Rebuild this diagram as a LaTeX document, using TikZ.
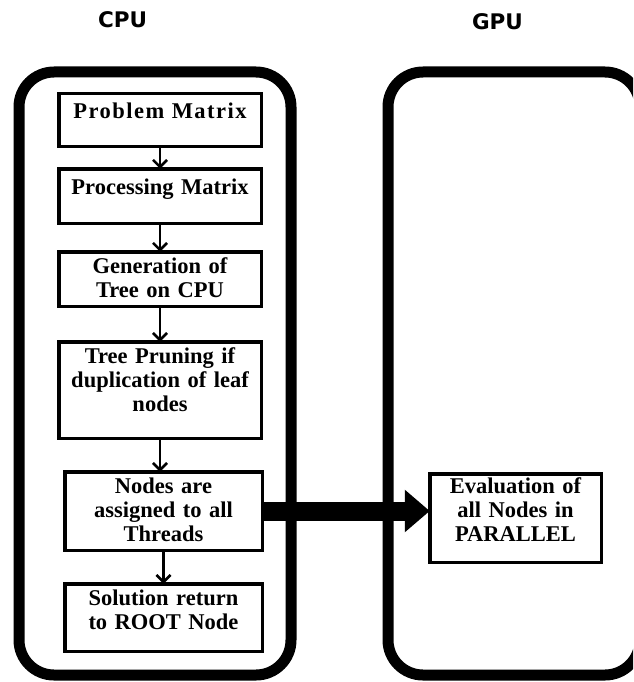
\documentclass[tikz,border=0pt]{standalone}
\usepackage{fontspec}
\setmainfont{Liberation Serif}
\newfontfamily\sidefont{DejaVu Sans}
\usepackage{tikz}
\usetikzlibrary{arrows.meta}

\tikzset{
  stepbox/.style={draw, line width=3.5pt, inner sep=0pt, outer sep=0pt, anchor=north,
    text width=202.5pt, align=center, text height=22pt,
    font=\bfseries\fontsize{22.5}{24}\selectfont},
  panel/.style={line width=11pt, rounded corners=35pt},
  side/.style={font=\sidefont\bfseries\fontsize{21.5}{26}\selectfont},
  bigarrow/.style={line width=19pt, -{Triangle[length=25pt,width=41pt]}}
}

\begin{document}
\begin{tikzpicture}[x=1pt, y=1pt, >={Straight Barb[length=7pt,width=14pt]},
    edge from parent/.style={draw, line width=2.5pt, ->},
    edge from parent path={(\tikzparentnode.south) -- (\tikzparentnode.south |- \tikzchildnode.north)},
    level 1/.style={level distance=48.75pt},
    level 2/.style={level distance=55.75pt},
    level 3/.style={level distance=62.75pt},
    level 4/.style={level distance=81.75pt},
    level 5/.style={level distance=72.75pt}]
  \useasboundingbox (0,0) rectangle (633,-682);
  \clip (0,0) rectangle (633,-682);
  % the two sides
  \draw[panel] (19,-72) rectangle (291,-675);
  \draw[panel] (388,-72) rectangle (640,-675);
  \node[side] (cpu) at (122.5,-20) {CPU};
  \node[side] (gpu) at (497.5,-21.5) {GPU};
  % steps on the CPU
  \node[stepbox, text height=24.25pt, text depth=28.25pt] (prob) at (160,-93.75) {\addfontfeature{LetterSpace=6.5}Problem Matrix}
    child {node[stepbox, text height=26pt, text depth=28.5pt] (proc) {Processing Matrix}
      child {node[stepbox, text depth=32.5pt] (gen) {Generation of\\Tree on CPU}
        child {node[stepbox, text depth=74.5pt] (prune) {Tree Pruning if\\duplication of leaf\\nodes}
          child {node[stepbox, xshift=3.5pt, text width=197.5pt, text depth=56.5pt] (assign) {Nodes are\\assigned to all\\Threads}
            child {node[stepbox, text width=197.5pt, text depth=45.5pt] (sol) {Solution return\\to ROOT Node}}
          }
        }
      }
    };
  % work on the GPU
  \node[stepbox, text width=171.5pt, text height=20pt, text depth=68.5pt] (eval) at (515.5,-473.75) {Evaluation of\\all Nodes in\\PARALLEL};
  \draw[bigarrow] (assign.east) -- (assign.east -| eval.west);
\end{tikzpicture}
\end{document}
